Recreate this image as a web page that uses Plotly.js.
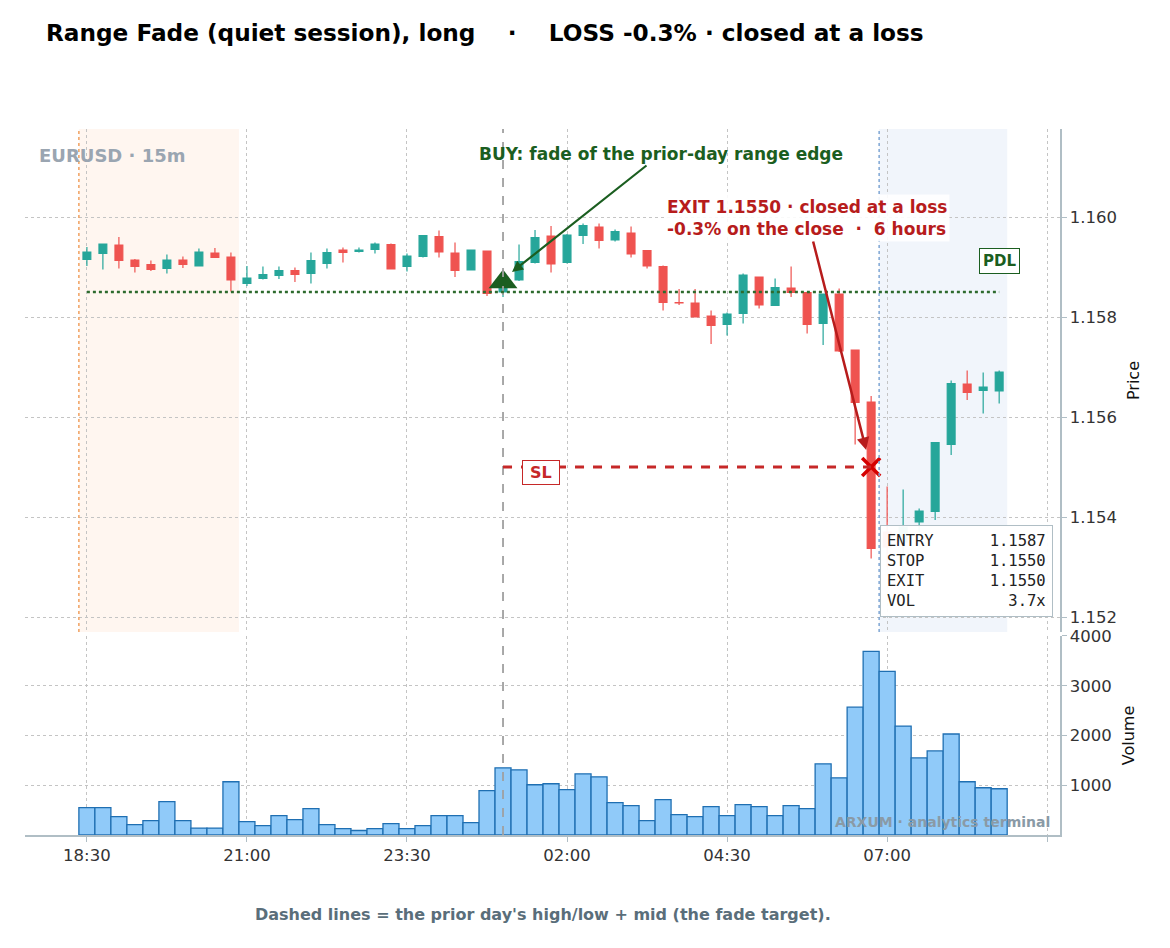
<!DOCTYPE html>
<html>
<head>
<meta charset="utf-8">
<script src="https://cdn.plot.ly/plotly-3.0.1.min.js"></script>
<style>html,body{margin:0;padding:0;background:#fff}#chart{width:1170px;height:948px}</style>
</head>
<body>
<div id="chart"></div>
<script>
const times = [
 "2024-06-11 18:30","2024-06-11 18:45","2024-06-11 19:00","2024-06-11 19:15","2024-06-11 19:30","2024-06-11 19:45",
 "2024-06-11 20:00","2024-06-11 20:15","2024-06-11 20:30","2024-06-11 20:45","2024-06-11 21:00","2024-06-11 21:15",
 "2024-06-11 21:30","2024-06-11 21:45","2024-06-11 22:00","2024-06-11 22:15","2024-06-11 22:30","2024-06-11 22:45",
 "2024-06-11 23:00","2024-06-11 23:15","2024-06-11 23:30","2024-06-11 23:45","2024-06-12 00:00","2024-06-12 00:15",
 "2024-06-12 00:30","2024-06-12 00:45","2024-06-12 01:00","2024-06-12 01:15","2024-06-12 01:30","2024-06-12 01:45",
 "2024-06-12 02:00","2024-06-12 02:15","2024-06-12 02:30","2024-06-12 02:45","2024-06-12 03:00","2024-06-12 03:15",
 "2024-06-12 03:30","2024-06-12 03:45","2024-06-12 04:00","2024-06-12 04:15","2024-06-12 04:30","2024-06-12 04:45",
 "2024-06-12 05:00","2024-06-12 05:15","2024-06-12 05:30","2024-06-12 05:45","2024-06-12 06:00","2024-06-12 06:15",
 "2024-06-12 06:30","2024-06-12 06:45","2024-06-12 07:00","2024-06-12 07:15","2024-06-12 07:30","2024-06-12 07:45",
 "2024-06-12 08:00","2024-06-12 08:15","2024-06-12 08:30","2024-06-12 08:45"
];
const openP = [1.15915,1.15927,1.15944,1.15914,1.15905,1.15897,1.15914,1.15902,1.15928,1.15920,
 1.15867,1.15877,1.15883,1.15893,1.15887,1.15907,1.15934,1.15931,1.15935,1.15945,
 1.15901,1.15921,1.15961,1.15928,1.15894,1.15932,1.15850,1.15874,1.15909,1.15962,
 1.15909,1.15963,1.15980,1.15954,1.15968,1.15933,1.15901,1.15829,1.15828,1.15802,
 1.15785,1.15807,1.15880,1.15823,1.15858,1.15849,1.15787,1.15846,1.15734,1.15630,
 1.15370,1.15350,1.15390,1.15411,1.15545,1.15666,1.15653,1.15652];
const highP = [1.15940,1.15946,1.15960,1.15916,1.15913,1.15925,1.15921,1.15937,1.15938,1.15929,
 1.15902,1.15901,1.15901,1.15899,1.15929,1.15937,1.15939,1.15939,1.15949,1.15947,
 1.15927,1.15964,1.15973,1.15949,1.15935,1.15933,1.15875,1.15945,1.15974,1.15982,
 1.15966,1.15987,1.15987,1.15975,1.15981,1.15934,1.15903,1.15856,1.15856,1.15813,
 1.15809,1.15887,1.15881,1.15877,1.15901,1.15850,1.15847,1.15857,1.15735,1.15642,
 1.15461,1.15455,1.15417,1.15550,1.15673,1.15693,1.15689,1.15693];
const lowP = [1.15902,1.15895,1.15897,1.15889,1.15892,1.15887,1.15898,1.15901,1.15918,1.15851,
 1.15862,1.15875,1.15876,1.15870,1.15867,1.15897,1.15909,1.15929,1.15927,1.15895,
 1.15891,1.15919,1.15919,1.15880,1.15893,1.15842,1.15840,1.15872,1.15907,1.15889,
 1.15907,1.15946,1.15937,1.15951,1.15919,1.15897,1.15813,1.15824,1.15799,1.15746,
 1.15763,1.15787,1.15817,1.15822,1.15840,1.15767,1.15744,1.15730,1.15545,1.15317,
 1.15300,1.15310,1.15370,1.15394,1.15524,1.15634,1.15607,1.15627];
const closeP = [1.15930,1.15946,1.15913,1.15901,1.15895,1.15914,1.15905,1.15930,1.15919,1.15874,
 1.15878,1.15885,1.15893,1.15885,1.15913,1.15929,1.15929,1.15934,1.15946,1.15896,
 1.15922,1.15963,1.15930,1.15893,1.15934,1.15847,1.15868,1.15911,1.15959,1.15906,
 1.15964,1.15983,1.15953,1.15971,1.15926,1.15902,1.15829,1.15828,1.15800,1.15783,
 1.15806,1.15884,1.15824,1.15859,1.15849,1.15785,1.15846,1.15732,1.15629,1.15337,
 1.15340,1.15380,1.15412,1.15549,1.15667,1.15649,1.15660,1.15690];
const volume = [550,550,370,210,290,670,290,140,140,1070,270,190,390,310,530,210,130,90,130,230,
 130,190,390,390,250,890,1350,1310,1010,1030,910,1230,1170,650,590,290,710,410,370,570,
 390,610,570,390,590,530,1430,1150,2570,3690,3290,2190,1550,1690,2030,1070,950,930];

const entryTime = "2024-06-12 01:00", entryPrice = 1.1587;
const exitTime = "2024-06-12 06:45", exitPrice = 1.1550;
const stopPrice = 1.1550;
const pdlPrice = 1.1585;
const firstTime = "2024-06-11 18:30", lastTime = "2024-06-12 08:45";
const asiaStart = "2024-06-11 18:22:30", asiaEnd = "2024-06-11 20:52:30";
const ldnStart = "2024-06-12 06:52:30", ldnEnd = "2024-06-12 08:52:30";
const xTickVals = ["2024-06-11 18:30","2024-06-11 21:00","2024-06-11 23:30","2024-06-12 02:00","2024-06-12 04:30","2024-06-12 07:00","2024-06-12 09:30"];
const xTickText = ["18:30","21:00","23:30","02:00","04:30","07:00",""];
const priceTicks = [1.152,1.154,1.156,1.158,1.160];
const volTicks = [1000,2000,3000,4000];
const infoRows = [["ENTRY","1.1587"],["STOP","1.1550"],["EXIT","1.1550"],["VOL","3.7x"]];

const FONT = "DejaVu Sans";
const grid = "#c4c4c4";
const axisLine = "#b0bec5";

const traces = [
 {type:"candlestick", x:times, open:openP, high:highP, low:lowP, close:closeP, xaxis:"x", yaxis:"y",
  increasing:{line:{color:"#26a69a",width:1.2}, fillcolor:"#26a69a"},
  decreasing:{line:{color:"#ef5350",width:1.2}, fillcolor:"#ef5350"},
  whiskerwidth:0, hoverinfo:"skip"},
 {type:"bar", x:times, y:volume, xaxis:"x", yaxis:"y2",
  marker:{color:"#90caf9", line:{color:"#1f6fb2", width:1.3}}, hoverinfo:"skip"},
 {type:"scatter", mode:"markers", x:[entryTime], y:[entryPrice], xaxis:"x", yaxis:"y",
  marker:{symbol:"triangle-up", size:25, color:"#1b5e20"}, hoverinfo:"skip"},
 {type:"scatter", mode:"markers", x:[exitTime], y:[exitPrice], xaxis:"x", yaxis:"y",
  marker:{symbol:"x-thin", size:18, line:{color:"#d50000", width:3.5}, color:"#d50000"}, hoverinfo:"skip"}
];

const shapes = [
 {type:"rect", xref:"x", yref:"y domain", x0:asiaStart, x1:asiaEnd, y0:0, y1:1, fillcolor:"rgba(255,204,170,0.18)", line:{width:0}, layer:"below"},
 {type:"line", xref:"x", yref:"y domain", x0:asiaStart, x1:asiaStart, y0:0, y1:1, line:{color:"#f0a060", width:1.5, dash:"dot"}},
 {type:"rect", xref:"x", yref:"y domain", x0:ldnStart, x1:ldnEnd, y0:0, y1:1, fillcolor:"rgba(190,208,236,0.22)", line:{width:0}, layer:"below"},
 {type:"line", xref:"x", yref:"y domain", x0:ldnStart, x1:ldnStart, y0:0, y1:1, line:{color:"#7ea6d4", width:1.5, dash:"dot"}},
 {type:"line", xref:"x", yref:"paper", x0:entryTime, x1:entryTime, y0:0, y1:1, line:{color:"#a0a0a0", width:1.8, dash:"dash"}},
 {type:"line", xref:"x", yref:"y", x0:firstTime, x1:lastTime, y0:pdlPrice, y1:pdlPrice, line:{color:"#2e6b2e", width:2.5, dash:"dot"}},
 {type:"line", xref:"x", yref:"y", x0:entryTime, x1:exitTime, y0:stopPrice, y1:stopPrice, line:{color:"#c62828", width:3, dash:"dash"}}
];

function pad(n){let r="";for(let i=0;i<n;i++)r+="&nbsp;";return r;}
const infoText = infoRows.map(r => r[0] + pad(17 - r[0].length - r[1].length) + r[1]).join("<br>");

const annotations = [
 {xref:"paper", yref:"paper", x:0.0116, y:0.963, xanchor:"left", yanchor:"middle", showarrow:false,
  text:"<b>EURUSD · 15m</b>", font:{family:FONT, size:18, color:"#9aa5b1"}},
 {xref:"x", yref:"y", x:"2024-06-12 01:08:26", y:1.1589, ax:149, ay:-118, showarrow:true,
  arrowhead:2, arrowsize:1, arrowwidth:2.2, arrowcolor:"#1b5e20", standoff:0,
  text:"<b>BUY: fade of the prior-day range edge</b>", font:{family:FONT, size:17, color:"#1b5e20"}},
 {xref:"x", yref:"y", x:"2024-06-12 06:40:20", y:1.15534, ax:-59, ay:-232, showarrow:true,
  arrowhead:2, arrowsize:1, arrowwidth:2.5, arrowcolor:"#b71c1c", standoff:0, align:"left",
  bgcolor:"rgba(255,255,255,0.9)", borderpad:2,
  text:"<b>EXIT 1.1550 · closed at a loss<br>-0.3% on the close &nbsp;· &nbsp;6 hours</b>", font:{family:FONT, size:17, color:"#b71c1c"}},
 {xref:"x", yref:"y", x:"2024-06-12 01:35:37", y:1.1549, showarrow:false,
  text:"&nbsp;<b>SL</b>&nbsp;", font:{family:FONT, size:16, color:"#c62828"}, bgcolor:"#ffffff", bordercolor:"#c62828", borderwidth:1, borderpad:2},
 {xref:"x", yref:"y", x:lastTime, y:1.15912, showarrow:false,
  text:"<b>PDL</b>", font:{family:FONT, size:15, color:"#1b5e20"}, bgcolor:"#ffffff", bordercolor:"#1b5e20", borderwidth:1, borderpad:3},
 {xref:"paper", yref:"paper", x:0.8261, y:0.4391, xanchor:"left", yanchor:"top", showarrow:false, align:"left",
  text:infoText, font:{family:"DejaVu Sans Mono", size:15.5, color:"#222"}, bgcolor:"rgba(255,255,255,0.95)",
  bordercolor:"#b0bec5", borderwidth:1, borderpad:6},
 {xref:"paper", yref:"paper", x:0.992, y:0.018, xanchor:"right", yanchor:"middle", showarrow:false,
  text:"<b>ARXUM · analytics terminal</b>", font:{family:FONT, size:14, color:"#8a9aa6"}},
 {xref:"paper", yref:"paper", x:0.5, y:-0.112, xanchor:"center", yanchor:"middle", showarrow:false,
  text:"<b>Dashed lines = the prior day's high/low + mid (the fade target).</b>", font:{family:FONT, size:16, color:"#5a6e7a"}}
];

const layout = {
 width:1170, height:948,
 margin:{l:25, r:110, t:129, b:113},
 paper_bgcolor:"#ffffff", plot_bgcolor:"#ffffff",
 showlegend:false, bargap:0,
 font:{family:FONT, size:16, color:"#333"},
 title:{text:"<b>Range Fade (quiet session), long &nbsp;&nbsp; · &nbsp;&nbsp; LOSS -0.3% · closed at a loss</b>",
  x:46/1170, xanchor:"left", xref:"container", y:1-33/948, yanchor:"middle", yref:"container",
  font:{family:FONT, size:23.2, color:"#000"}},
 xaxis:{type:"date", anchor:"y2", range:["2024-06-11 17:32","2024-06-12 09:42"],
  tickvals:xTickVals, ticktext:xTickText, ticks:"outside", ticklen:5, tickcolor:axisLine,
  showgrid:true, gridcolor:grid, griddash:"dot", gridwidth:1,
  showline:true, linecolor:axisLine, linewidth:1.5, rangeslider:{visible:false},
  tickfont:{family:FONT, size:16.5, color:"#333"}, zeroline:false},
 yaxis:{domain:[0.2875,1], side:"right", range:[1.1517,1.16176], tickvals:priceTicks, tickformat:".3f",
  showgrid:true, gridcolor:grid, griddash:"dot", showline:true, linecolor:axisLine, linewidth:1.5,
  ticks:"outside", ticklen:5, tickcolor:axisLine, zeroline:false,
  tickfont:{family:FONT, size:16.5, color:"#333"},
  title:{text:"Price", font:{family:FONT, size:16, color:"#111"}, standoff:12}},
 yaxis2:{domain:[0,0.2819], side:"right", range:[0,4000], tickvals:volTicks,
  showgrid:true, gridcolor:grid, griddash:"dot", showline:true, linecolor:axisLine, linewidth:1.5,
  ticks:"outside", ticklen:5, tickcolor:axisLine, zeroline:false,
  tickfont:{family:FONT, size:16.5, color:"#333"},
  title:{text:"Volume", font:{family:FONT, size:16, color:"#111"}, standoff:12}},
 shapes:shapes, annotations:annotations
};

Plotly.newPlot("chart", traces, layout, {displayModeBar:false, staticPlot:true});
</script>
</body>
</html>
